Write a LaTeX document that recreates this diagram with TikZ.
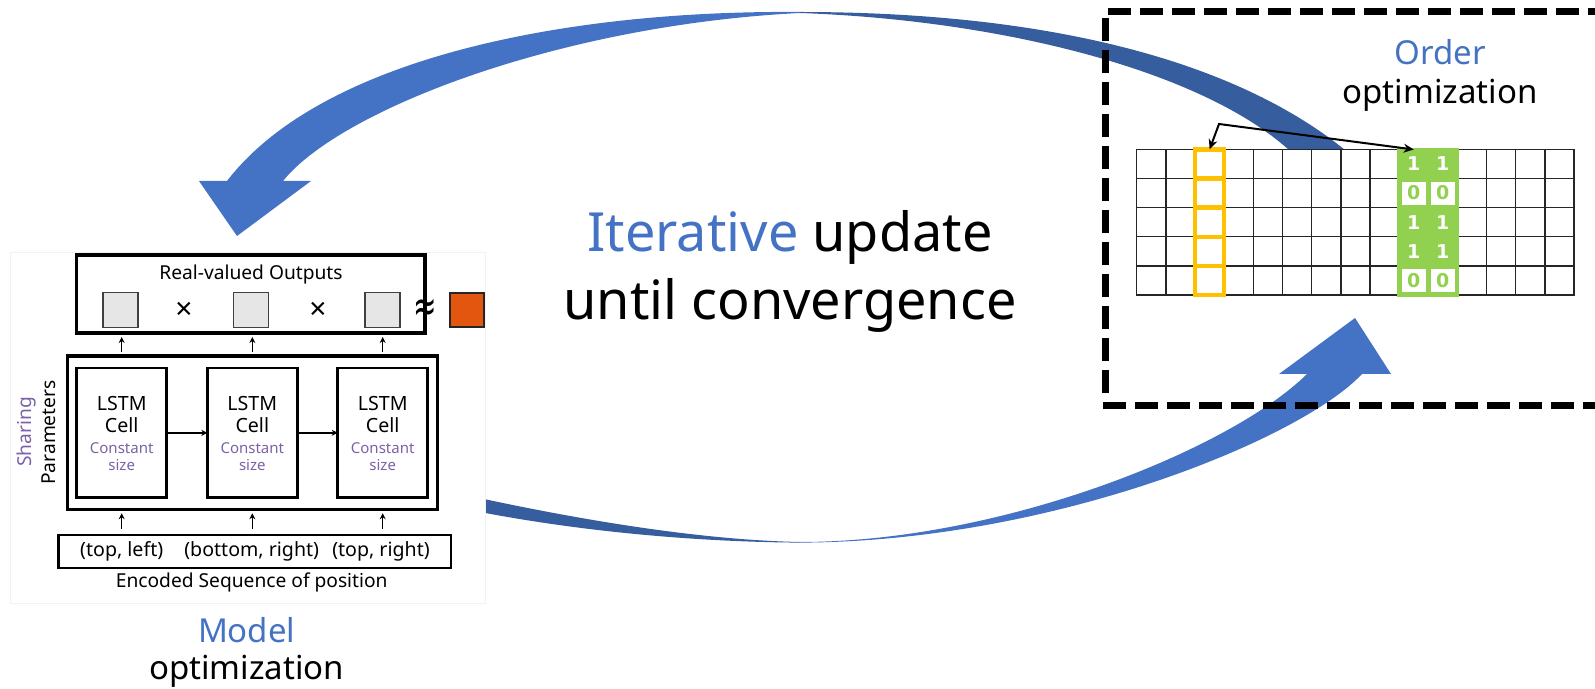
\documentclass[tikz,border=0pt]{standalone}
\usepackage{fontspec}
\setmainfont{Noto Sans}
\newfontfamily\symbolfont{DejaVu Sans}
\usetikzlibrary{arrows.meta}

\definecolor{arrowblue}{HTML}{4472C4}
\definecolor{arrowshade}{HTML}{365D9E}
\definecolor{textblue}{HTML}{4472C4}
\definecolor{lstmpurple}{HTML}{7B62A8}
\definecolor{gridorange}{HTML}{FFC000}
\definecolor{gridgreen}{HTML}{92D050}
\definecolor{outorange}{HTML}{E3560F}
\definecolor{cellgray}{HTML}{E6E6E6}

\tikzset{
  panelbox/.style={draw=black!5, fill=white, line width=0.5pt, minimum width=237.5pt, minimum height=175pt, inner sep=0pt, outer sep=0pt},
  framebox/.style={draw=black, line width=1.6pt, inner sep=0pt, outer sep=0pt},
  lstmbox/.style={draw=black, line width=1.3pt, minimum width=45pt, minimum height=64.8pt, inner sep=0pt, outer sep=0pt},
  graysq/.style={draw=black!75, fill=cellgray, line width=0.6pt, minimum size=17.5pt, inner sep=0pt, outer sep=0pt},
  orangesq/.style={draw=black!85, fill=outorange, line width=1pt, minimum size=17pt, inner sep=0pt, outer sep=0pt},
  smallarrow/.style={-{Stealth[length=3pt,width=3pt]}, line width=0.7pt},
  labeltext/.style={inner sep=0pt, font=\fontsize{9.6pt}{11pt}\selectfont},
  celltext/.style={inner sep=0pt, anchor=base, font=\fontsize{9.8pt}{11pt}\selectfont},
  sizetext/.style={inner sep=0pt, anchor=base, text=lstmpurple, font=\fontsize{7.5pt}{9pt}\selectfont},
  optext/.style={inner sep=0pt, font=\fontsize{15pt}{16pt}\selectfont},
  headtext/.style={inner sep=0pt, anchor=base, font=\fontsize{16.5pt}{18pt}\selectfont},
  bigtext/.style={inner sep=0pt, anchor=base, font=\fontsize{27pt}{34pt}\selectfont},
  bittext/.style={inner sep=0pt, font=\symbolfont\bfseries\fontsize{9.5pt}{10pt}\selectfont},
  gridline/.style={draw=black!85, line width=0.75pt},
  orangeline/.style={draw=gridorange, line width=2.2pt},
  swapline/.style={{Stealth[length=5pt,width=4.5pt]}-{Stealth[length=5pt,width=4.5pt]}, line width=1pt},
  dashframe/.style={draw=black, line width=3.5pt, dash pattern=on 11.5pt off 4.5pt},
}

\begin{document}
\begin{tikzpicture}[x=0.5pt,y=-0.5pt]
\useasboundingbox (0,0) rectangle (1595,689);
\clip (0,0) rectangle (1595,689);

% ---- curved feedback arrow, upper (towards the model) ----
% shaded back part, running under the grid
\fill[arrowshade]
  (800,12) .. controls (1060,12) and (1240,65) .. (1345,150)
  -- (1362,168) -- (1296,168) -- (1289,150)
  .. controls (1200,70) and (1000,20) .. (800,13) -- cycle;
% front part with the head
\fill[arrowblue]
  (800,12) .. controls (560,10) and (320,60) .. (227,181)
  -- (199,181) -- (237,236) -- (311,181) -- (283,181)
  .. controls (340,110) and (560,25) .. (800,13) -- cycle;

% ---- curved feedback arrow, lower (towards the order) ----
\fill[arrowshade]
  (470,496) .. controls (580,520) and (700,540) .. (800,542)
  -- (800,542.6) .. controls (700,542) and (580,532) .. (470,510) -- cycle;
\fill[arrowblue]
  (800,542) .. controls (1000,542) and (1230,450) .. (1307,374)
  -- (1279,374) -- (1355,318) -- (1391,374) -- (1362,374)
  .. controls (1300,440) and (1050,542) .. (800,542.6) -- cycle;

% ---- model panel ----
\node[panelbox] (panel) at (247.5,428) {};

\node[framebox, minimum width=174.2pt, minimum height=39pt] (out) at (250.85,294) {};
\node[labeltext] (outtitle) at (251,275) {Real-valued Outputs};
\node[graysq] (o1) at (120.5,310) {};
\node[graysq] (o2) at (251,310) {};
\node[graysq] (o3) at (382.5,310) {};
\node[optext] (x1) at (184,311) {×};
\node[optext] (x2) at (318,311) {×};
\node[inner sep=0pt, font=\symbolfont\fontsize{14pt}{15pt}\selectfont] (approx) at (425,310) {\scalebox{1}[1.6]{≈}};
\node[orangesq] (target) at (467,310) {};

\node[framebox, minimum width=184.8pt, minimum height=76.6pt] (params) at (252.5,432.65) {};
\node[lstmbox] (c1) at (121.7,432.85) {};
\node[lstmbox] (c2) at (252.3,432.85) {};
\node[lstmbox] (c3) at (382.7,432.85) {};
\foreach \n/\cx in {c1/121.7, c2/252.3, c3/382.7}{
  \node[celltext] (\n l1) at (\cx,410.5) {LSTM};
  \node[celltext] (\n l2) at (\cx,432.5) {Cell};
  \node[sizetext] (\n l3) at (\cx,453) {Constant};
  \node[sizetext] (\n l4) at (\cx,470) {size};
}
\draw[smallarrow] (c1.east) -- (c2.west);
\draw[smallarrow] (c2.east) -- (c3.west);

\node[labeltext, rotate=90, text=lstmpurple] (sharing) at (26.7,432) {Sharing};
\node[labeltext, rotate=90] (paramlabel) at (48.3,432.5) {Parameters};

\node[draw=black, line width=1.2pt, minimum width=196.2pt, minimum height=16.35pt, inner sep=0pt, outer sep=0pt] (enc) at (254.5,551.35) {};
\node[labeltext, font=\fontsize{9.8pt}{11pt}\selectfont] (e1) at (121.7,551.7) {(top, left)};
\node[labeltext, font=\fontsize{9.8pt}{11pt}\selectfont] (e2) at (251.7,551.7) {(bottom, right)};
\node[labeltext, font=\fontsize{9.8pt}{11pt}\selectfont] (e3) at (381,551.7) {(top, right)};
\node[labeltext] (enclabel) at (251.7,582.7) {Encoded Sequence of position};

\foreach \n in {c1,c2,c3}{
  \draw[smallarrow, shorten <=2pt, shorten >=2pt] (params.north -| \n) -- (out.south -| \n);
  \draw[smallarrow, shorten <=3pt, shorten >=2pt] (enc.north -| \n) -- (params.south -| \n);
}

\node[headtext, text=textblue] (modelA) at (246.7,642) {Model};
\node[headtext] (modelB) at (246.7,679) {optimization};

% ---- centre caption ----
\node[bigtext] (iterA) at (790,251.7) {{\color{textblue}Iterative} update};
\node[bigtext] (iterB) at (790,320) {until convergence};

% ---- order grid ----
\node[draw=black!85, fill=white, line width=0.75pt, minimum width=218.65pt, minimum height=72.85pt, inner sep=0pt, outer sep=0pt] (grid) at (1355.35,222.2) {};
\foreach \c in {1,...,14}
  \draw[gridline] ({1136.7+\c*29.15},149.3) -- ({1136.7+\c*29.15},295);
\foreach \r in {1,...,4}
  \draw[gridline] (1136.7,{149.3+\r*29.15}) -- (1574,{149.3+\r*29.15});

\node[draw=gridorange, line width=2.2pt, minimum width=14.575pt, minimum height=72.85pt, inner sep=0pt, outer sep=0pt] (ocol) at (1209.6,222.2) {};
\foreach \r in {1,...,4}
  \draw[orangeline] (ocol.west |- 0,{149.3+\r*29.15}) -- (ocol.east |- 0,{149.3+\r*29.15});

\node[fill=gridgreen, minimum width=31pt, minimum height=74.5pt, inner sep=0pt, outer sep=0pt] (gcol) at (1428.3,222.2) {};
\foreach \r/\v in {0/1, 1/0, 2/1, 3/1, 4/0}{
  \foreach \k/\cx in {a/1413.7, b/1442.8}{
    \ifnum\v=0
      \node[fill=white, minimum width=12pt, minimum height=11.5pt, inner sep=0pt] (w\r\k) at (\cx,{163.9+\r*29.15}) {};
      \node[bittext, text=gridgreen] (d\r\k) at (\cx,{163.9+\r*29.15}) {0};
    \else
      \node[bittext, text=white] (d\r\k) at (\cx,{163.9+\r*29.15}) {1};
    \fi
  }
}

\coordinate (bend) at (1219,124);
\coordinate (gtop) at (1413.7,149.5);
\draw[swapline] (ocol.north) -- (bend) -- (gtop);

\node[headtext, text=textblue] (orderA) at (1440,65) {Order};
\node[headtext] (orderB) at (1440,103.3) {optimization};

% ---- dashed frame round the order step ----
\draw[dashframe] (1108,12) -- (1620,12);
\draw[dashframe] (1105,18) -- (1105,400);
\draw[dashframe] (1103,406) -- (1620,406);
\end{tikzpicture}
\end{document}
